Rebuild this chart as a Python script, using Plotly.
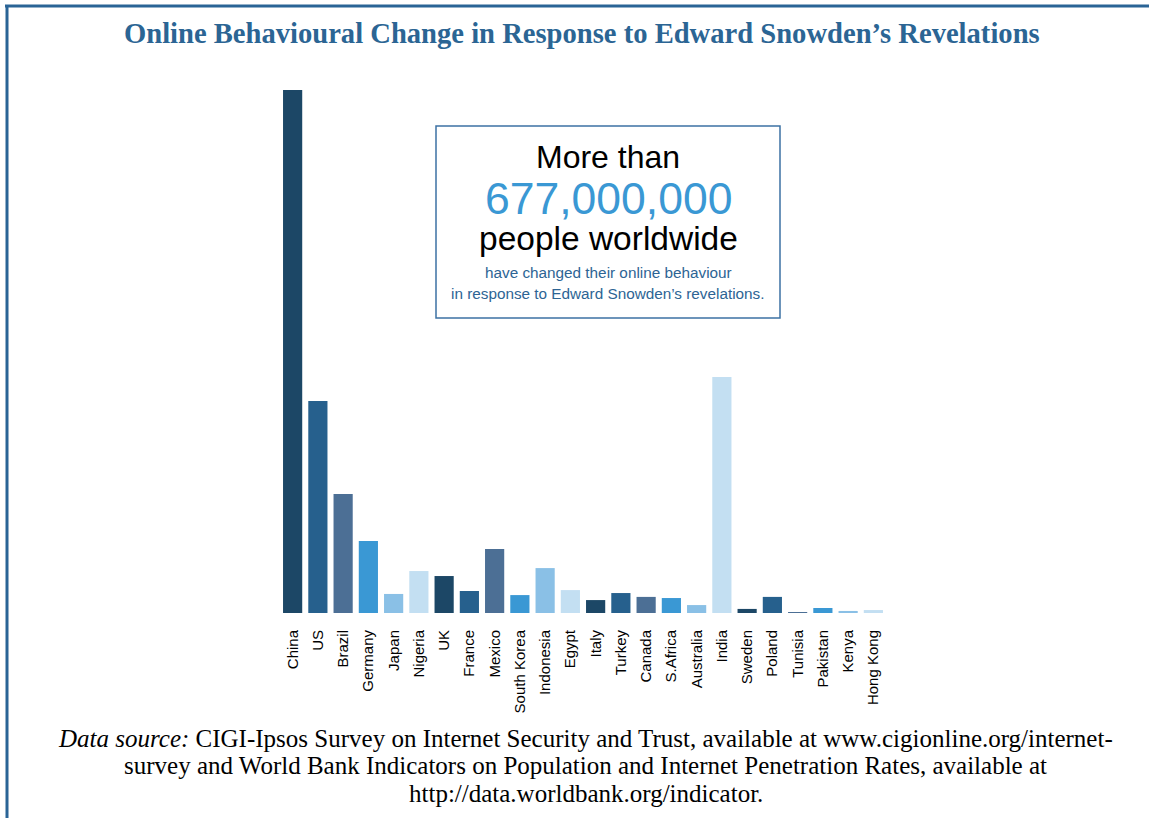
import plotly.graph_objects as go

countries = ["China", "US", "Brazil", "Germany", "Japan", "Nigeria", "UK", "France",
             "Mexico", "South Korea", "Indonesia", "Egypt", "Italy", "Turkey", "Canada",
             "S.Africa", "Australia", "India", "Sweden", "Poland", "Tunisia", "Pakistan",
             "Kenya", "Hong Kong"]
# people who changed online behaviour (millions)
changed_millions = [230.6, 93.5, 52.5, 31.8, 8.4, 18.5, 16.3, 9.7,
                    28.2, 7.9, 19.8, 10.1, 5.7, 8.8, 7.1,
                    6.6, 3.5, 104.1, 1.8, 7.1, 0.4, 2.2,
                    0.9, 1.3]
palette = ["#1c4766", "#26608d", "#4c6f95", "#3a98d4", "#8ac0e6", "#c3dff2"]
bar_colors = [palette[i % len(palette)] for i in range(len(countries))]

W, H = 1149, 818
L, R, T, B = 280, 886, 90, 613


def px(x):
    return (x - L) / (R - L)


def py(y):
    return (B - y) / (B - T)


fig = go.Figure(go.Bar(
    x=countries, y=changed_millions, marker=dict(color=bar_colors, line=dict(width=0)),
    width=0.76, hoverinfo="x+y"))

title_col = "#2b6594"
frame_col = "#2a6496"

shapes = [
    dict(type="line", xref="paper", yref="paper", x0=px(5), x1=px(1149), y0=py(6), y1=py(6),
         line=dict(color=frame_col, width=3)),
    dict(type="line", xref="paper", yref="paper", x0=px(7), x1=px(7), y0=py(5), y1=py(818),
         line=dict(color=frame_col, width=3)),
    dict(type="rect", xref="paper", yref="paper", x0=px(436), x1=px(780), y0=py(318), y1=py(126),
         line=dict(color="#3d72a4", width=1.5), fillcolor="rgba(0,0,0,0)"),
]

cx = px(608)
foot_font = dict(family="Liberation Serif", size=25, color="#000000")
ann = [
    dict(text="<b>Online Behavioural Change in Response to Edward Snowden’s Revelations</b>",
         x=px(582), y=py(33), font=dict(family="Liberation Serif", size=28.6, color=title_col)),
    dict(text="More than", x=cx, y=py(157),
         font=dict(family="Liberation Sans", size=32, color="#000000")),
    dict(text="677,000,000", x=cx, y=py(198),
         font=dict(family="Liberation Sans", size=44.5, color="#3a98d4")),
    dict(text="people worldwide", x=cx, y=py(238),
         font=dict(family="Liberation Sans", size=33.5, color="#000000")),
    dict(text="have changed their online behaviour", x=cx, y=py(272),
         font=dict(family="Liberation Sans", size=15.3, color="#2d6494")),
    dict(text="in response to Edward Snowden’s revelations.", x=cx, y=py(293),
         font=dict(family="Liberation Sans", size=15.3, color="#2d6494")),
    dict(text="<i>Data source:</i> CIGI-Ipsos Survey on Internet Security and Trust, available at www.cigionline.org/internet-",
         x=px(585), y=py(738), font=foot_font),
    dict(text="survey and World Bank Indicators on Population and Internet Penetration Rates, available at",
         x=px(585), y=py(765), font=foot_font),
    dict(text="http://data.worldbank.org/indicator.",
         x=px(586), y=py(793), font=foot_font),
]
for a in ann:
    a.update(xref="paper", yref="paper", xanchor="center", yanchor="middle", showarrow=False)

fig.update_layout(
    width=W, height=H,
    margin=dict(l=L, r=W - R, t=T, b=H - B, pad=0),
    paper_bgcolor="white", plot_bgcolor="white",
    showlegend=False, bargap=0.24,
    shapes=shapes, annotations=ann,
    xaxis=dict(tickangle=-90, tickfont=dict(family="Liberation Sans", size=15, color="#000000"),
               showgrid=False, showline=False, zeroline=False, ticks="",
               ticklabelstandoff=13, range=[-0.5, len(countries) - 0.5], fixedrange=True),
    yaxis=dict(visible=False, range=[0, 230.6], showgrid=False, zeroline=False, fixedrange=True),
)

fig.write_html("out.html")
